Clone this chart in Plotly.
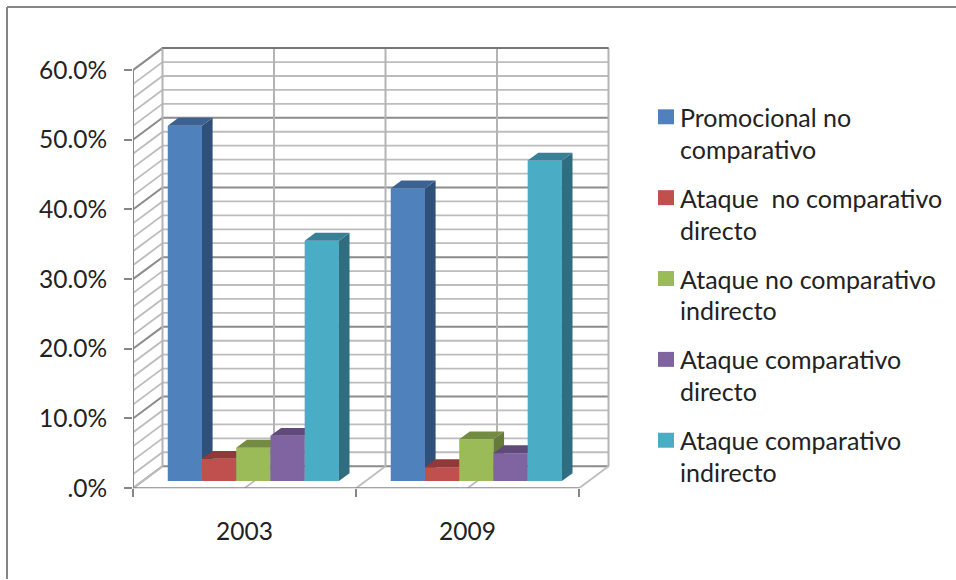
import plotly.graph_objects as go

# ---------- data ----------
categories = ["2003", "2009"]
series_names = [
    "Promocional no<br>comparativo",
    "Ataque \u00a0no comparativo<br>directo",
    "Ataque no comparativo<br>indirecto",
    "Ataque comparativo<br>directo",
    "Ataque comparativo<br>indirecto",
]
promocional = [51.0, 42.0]
ataque_nc_directo = [3.2, 2.0]
ataque_nc_indirecto = [4.8, 6.0]
ataque_c_directo = [6.5, 4.0]
ataque_c_indirecto = [34.5, 46.0]
series_values = [promocional, ataque_nc_directo, ataque_nc_indirecto, ataque_c_directo, ataque_c_indirecto]
y_tick_values = [0, 10, 20, 30, 40, 50, 60]
y_tick_labels = [".0%", "10.0%", "20.0%", "30.0%", "40.0%", "50.0%", "60.0%"]

front_colors = ["#4F81BD", "#C0504D", "#9BBB59", "#8064A2", "#4BACC6"]
top_colors = ["#3B6292", "#8F3A38", "#738C42", "#5F4A79", "#388095"]
side_colors = ["#2F5079", "#7A302E", "#667B3A", "#4E3D63", "#2F6E80"]

W, H = 956, 580
L, R, T, B = 133, 622, 38, 489      # pixel edges of the plot area
PX_PER_CAT = 223.0
PX_PER_PCT = 6.98
DEPTH_X = 29.5 / PX_PER_CAT         # wall depth in category units
DEPTH_Y = 22.0 / PX_PER_PCT         # wall depth in percent units
BAR_W = 0.1535
BAR_START = 0.1135
D_FRONT, D_BACK = 0.32, 0.68

GRID_MIN = "#BDBDBD"
GRID_MAJ = "#8C8C8C"
AXIS = "#868686"

fig = go.Figure()


def line(xs, ys, color, width=2.0):
    fig.add_trace(go.Scatter(x=xs, y=ys, mode="lines", line=dict(color=color, width=width),
                             showlegend=False, hoverinfo="skip", cliponaxis=False, zorder=0))


# minor then major grid on back and side walls
for major in (False, True):
    for v in range(0, 62, 2):
        is_major = v % 10 == 0
        if is_major != major:
            continue
        c = GRID_MAJ if major else GRID_MIN
        line([0, DEPTH_X, 2 + DEPTH_X], [v, v + DEPTH_Y, v + DEPTH_Y], c, 2.0 if major else 1.8)
# vertical lines on the back wall
for k in (0, 0.5, 1, 1.5, 2):
    line([k + DEPTH_X, k + DEPTH_X], [DEPTH_Y, 60 + DEPTH_Y], "#B4B4B4", 2.0)
# floor lines
for k in (0, 0.5, 1, 1.5, 2):
    line([k, k + DEPTH_X], [0, DEPTH_Y], "#BDBDBD", 1.8)
# front axis lines
line([0, 0], [0, 60], AXIS, 2.0)
line([0, 2], [0, 0], AXIS, 2.0)
line([DEPTH_X, 2 + DEPTH_X], [60 + DEPTH_Y, 60 + DEPTH_Y], "#777777", 2.0)

# bars
z = 1
for ci, cat in enumerate(categories):
    for si, values in enumerate(series_values):
        v = values[ci]
        x0 = ci + BAR_START + si * BAR_W
        x1 = x0 + BAR_W
        fx0, fx1 = x0 + D_FRONT * DEPTH_X, x1 + D_FRONT * DEPTH_X
        bx0, bx1 = x0 + D_BACK * DEPTH_X, x1 + D_BACK * DEPTH_X
        fb, bb = D_FRONT * DEPTH_Y, D_BACK * DEPTH_Y
        # side face
        fig.add_trace(go.Scatter(x=[fx1, bx1, bx1, fx1, fx1], y=[fb, bb, v + bb, v + fb, fb],
                                 mode="lines", fill="toself", fillcolor=side_colors[si],
                                 line=dict(width=0), showlegend=False, hoverinfo="skip", zorder=z))
        # top face
        fig.add_trace(go.Scatter(x=[fx0, bx0, bx1, fx1, fx0], y=[v + fb, v + bb, v + bb, v + fb, v + fb],
                                 mode="lines", fill="toself", fillcolor=top_colors[si],
                                 line=dict(width=0), showlegend=False, hoverinfo="skip", zorder=z))
        # front face
        fig.add_trace(go.Bar(x=[(fx0 + fx1) / 2], y=[v], base=[fb], width=[BAR_W],
                             marker=dict(color=front_colors[si], line=dict(width=0)),
                             name=series_names[si].replace("<br>", " "), showlegend=False, zorder=z))
        z += 1

shapes = [
    # outer frame
    dict(type="line", xref="paper", yref="paper", x0=7 / W, x1=7 / W, y0=0, y1=1 - 7 / H,
         line=dict(color="#868686", width=2)),
    dict(type="line", xref="paper", yref="paper", x0=7 / W, x1=1, y0=1 - 7 / H, y1=1 - 7 / H,
         line=dict(color="#868686", width=2)),
]
annotations = []
for i, name in enumerate(series_names):
    yc = 117 + i * 81
    shapes.append(dict(type="rect", xref="paper", yref="paper", x0=658 / W, x1=674 / W,
                       y0=1 - (yc + 7.5) / H, y1=1 - (yc - 7.5) / H,
                       fillcolor=front_colors[i], line=dict(width=0)))
    for j, part in enumerate(name.split("<br>")):
        annotations.append(dict(xref="paper", yref="paper", x=678 / W, y=1 - (yc + j * 32) / H,
                                text=part, showarrow=False, xanchor="left", yanchor="middle",
                                font=dict(family="Lato", size=25, color="#222222")))

fig.update_layout(
    width=W, height=593, autosize=False,
    margin=dict(l=0, r=0, t=0, b=0),
    paper_bgcolor="white", plot_bgcolor="rgba(0,0,0,0)",
    barmode="overlay", showlegend=False,
    font=dict(family="Lato", size=24.5, color="#222222"),
    shapes=shapes, annotations=annotations,
    xaxis=dict(domain=[L / W, R / W], range=[0, (R - L) / PX_PER_CAT],
               tickmode="array", tickvals=[0.5, 1.5], ticktext=categories,
               ticks="", showgrid=False, zeroline=False, showline=False,
               ticklabelstandoff=26, tickfont=dict(size=24.5),
               minor=dict(tickmode="array", tickvals=[0, 1, 2], ticks="outside", ticklen=8,
                          tickcolor=AXIS, tickwidth=2, showgrid=False)),
    yaxis=dict(domain=[1 - B / H, 1 - T / H], range=[0, (B - T) / PX_PER_PCT],
               tickmode="array", tickvals=y_tick_values, ticktext=y_tick_labels,
               ticks="outside", ticklen=8, tickcolor=AXIS, tickwidth=2,
               showgrid=False, zeroline=False, showline=False,
               ticklabelstandoff=12, tickfont=dict(size=24.5)),
)

fig.write_html("out.html", config={"displayModeBar": False},
               post_script="document.body.style.margin='0';")
